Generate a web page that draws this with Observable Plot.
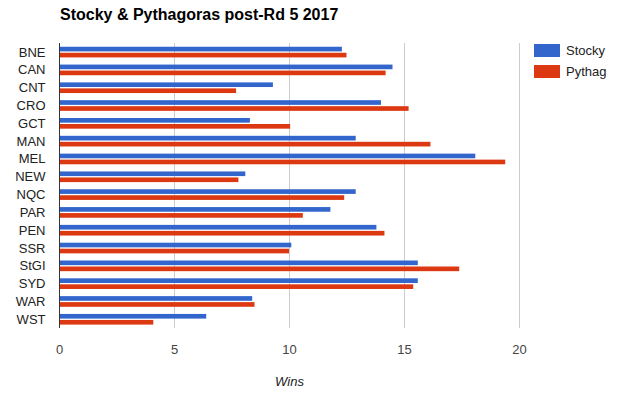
<!DOCTYPE html>
<html>
<head>
<meta charset="utf-8">
<script src="https://cdn.jsdelivr.net/npm/d3@7"></script>
<script src="https://cdn.jsdelivr.net/npm/@observablehq/plot@0.6"></script>
<style>
  html, body { margin: 0; padding: 0; background: #fff; }
  #wrap { position: relative; width: 623px; height: 398px; font-family: "Liberation Sans", Arial, sans-serif; }
  #title { position: absolute; left: 60px; top: 6px; font-size: 16px; line-height: 18px; font-weight: bold; color: #000; white-space: nowrap; }
  #legend { position: absolute; left: 534px; top: 40px; font-size: 13px; color: #222; }
  .item { display: flex; align-items: center; height: 21px; }
  .sw { width: 26px; height: 13px; margin-right: 6px; }
  #chart { position: absolute; left: 0; top: 0; }
</style>
</head>
<body>
<div id="wrap">
  <div id="chart"></div>
  <div id="title">Stocky &amp; Pythagoras post-Rd 5 2017</div>
  <div id="legend"></div>
</div>
<script>
const teams = ["BNE","CAN","CNT","CRO","GCT","MAN","MEL","NEW","NQC","PAR","PEN","SSR","StGI","SYD","WAR","WST"];
const stocky = [12.3, 14.5, 9.3, 14.0, 8.3, 12.9, 18.1, 8.1, 12.9, 11.8, 13.8, 10.1, 15.6, 15.6, 8.4, 6.4];
const pythag = [12.5, 14.2, 7.7, 15.2, 10.05, 16.15, 19.4, 7.8, 12.4, 10.6, 14.15, 10.0, 17.4, 15.4, 8.5, 4.1];
const seriesNames = ["Stocky", "Pythag"];
const colors = ["#3366cc", "#dc3912"];
const gridTicks = [5, 10, 15, 20];
const xTicks = [0, 5, 10, 15, 20];
const axisTitle = "Wins";

const stockyData = teams.map((t, i) => ({team: t, value: stocky[i]}));
const pythagData = teams.map((t, i) => ({team: t, value: pythag[i]}));

const chart = Plot.plot({
  width: 623,
  height: 398,
  marginLeft: 59,
  marginRight: 104,
  marginTop: 43,
  marginBottom: 70,
  style: {fontFamily: '"Liberation Sans", Arial, sans-serif', fontSize: "13px", background: "transparent"},
  x: {domain: [0, 20], ticks: xTicks, tickSize: 0, tickPadding: 16, label: null},
  y: {domain: teams, padding: 0, round: false, tickSize: 0, tickPadding: 14, label: null},
  marks: [
    Plot.ruleX(gridTicks, {stroke: "#cccccc", strokeWidth: 1}),
    Plot.barX(stockyData, {x: "value", y: "team", fill: colors[0], insetTop: 3.75, insetBottom: 9.4}),
    Plot.barX(pythagData, {x: "value", y: "team", fill: colors[1], insetTop: 9.75, insetBottom: 3.4}),
    Plot.ruleX([0], {stroke: "#333333", strokeWidth: 1}),
    Plot.axisX({ticks: xTicks, tickSize: 0, tickPadding: 16, fill: "#444", label: null, fontSize: 13}),
    Plot.axisY({tickSize: 0, tickPadding: 14, fill: "#222", label: null, fontSize: 13}),
    Plot.text([axisTitle], {frameAnchor: "bottom", dy: 57, fontStyle: "italic", fill: "#222", fontSize: 13})
  ]
});
document.getElementById("chart").appendChild(chart);

const legend = document.getElementById("legend");
seriesNames.forEach((name, i) => {
  const item = document.createElement("div");
  item.className = "item";
  const sw = document.createElement("div");
  sw.className = "sw";
  sw.style.background = colors[i];
  const label = document.createElement("span");
  label.textContent = name;
  item.appendChild(sw);
  item.appendChild(label);
  legend.appendChild(item);
});
</script>
</body>
</html>
